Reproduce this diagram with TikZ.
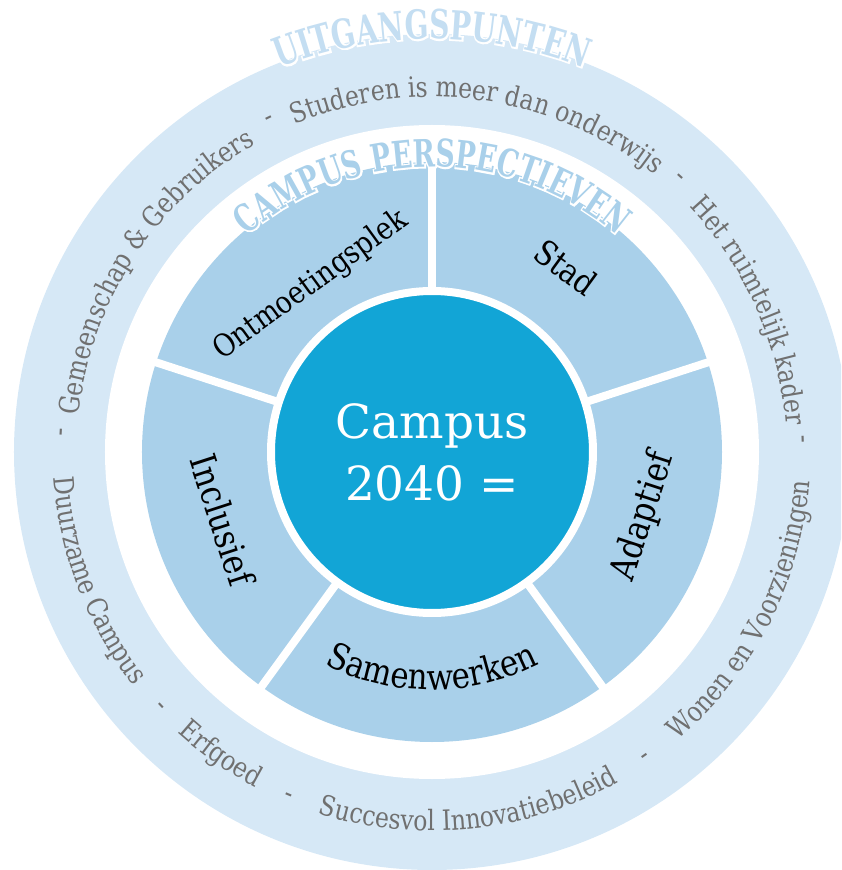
\documentclass[tikz,border=0pt]{standalone}
\usepackage{fontspec}
\setmainfont{DejaVu Serif}
\newfontfamily\labelfont[FakeStretch=0.84]{DejaVu Serif}
\newfontfamily\segfont[FakeStretch=0.86]{DejaVu Serif}
\newfontfamily\headfont[FakeStretch=0.7]{DejaVu Serif Bold}
\newfontfamily\halofont[FakeStretch=0.7,FakeBold=8]{DejaVu Serif Bold}
\usepackage{tikz}
\usetikzlibrary{decorations.text}

\definecolor{ringblue}{RGB}{214,232,246}
\definecolor{segblue}{RGB}{169,208,234}
\definecolor{coreblue}{RGB}{18,165,214}
\definecolor{greytext}{RGB}{112,112,112}
\definecolor{uitgblue}{RGB}{196,222,242}

\begin{document}
\begin{tikzpicture}[x=1pt, y=1pt,
   ring/.style={fill=ringblue},
   seg/.style={fill=segblue},
   gap/.style={draw=white, line width=8pt},
   core/.style={circle, fill=coreblue, draw=white, line width=8pt, minimum size=322pt, inner sep=0pt, text=white, align=center, font=\fontsize{47}{62}\selectfont},
   seglabel/.style={inner sep=0pt, font=\segfont\fontsize{#1}{#1}\selectfont},
   seglabel/.default=35,
   sepmark/.style={inner sep=0pt, text=greytext, font=\labelfont\fontsize{28}{28}\selectfont},
   arctext/.style={decorate, decoration={text along path, text align=center, text color=greytext, text={|\labelfont\fontsize{28}{28}\selectfont|#1}}},
   headhalo/.style 2 args={decorate, decoration={text along path, text align=center, text color=white, text={|\halofont\fontsize{#2}{#2}\selectfont|#1}}},
   headtext/.style n args={3}{decorate, decoration={text along path, text align=center, text color=#3, text={|\headfont\fontsize{#2}{#2}\selectfont|#1}}}
]
   \useasboundingbox (-432,-418) rectangle (409,452);
   \clip (-432,-418) rectangle (409,452);

   % Rings
   \fill[ring] (0,0) circle[radius=418];
   \fill[white] (0,0) circle[radius=327];
   \fill[seg] (0,0) circle[radius=290];
   \foreach \a in {90,18,-54,-126,162}
      \draw[gap] (0,0) -- (\a:296);

   % Centre
   \node[core] (campus) at (0,0) {Campus\\2040 =};

   % Perspectives
   \node[seglabel=31, rotate=36] (ontmoet) at (126:206) {Ontmoetingsplek};
   \node[seglabel=34, rotate=-36] (stad) at (54:228) {Stad};
   \node[seglabel=36, rotate=72] (adaptief) at (-17:221) {Adaptief};
   \node[seglabel=36, rotate=-72] (inclusief) at (198:220) {Inclusief};
   \path[decorate, decoration={text along path, text align=center, text={|\segfont\fontsize{36}{36}\selectfont|Samenwerken}}]
      (240:238) arc[start angle=240, end angle=300, radius=238];

   % Headings
   \path[headhalo={CAMPUS PERSPECTIEVEN}{38}] (150:285) arc[start angle=150, end angle=30, radius=285];
   \path[headtext={CAMPUS PERSPECTIEVEN}{38}{segblue}] (150:285) arc[start angle=150, end angle=30, radius=285];
   \path[headhalo={UITGANGSPUNTEN}{40}] (130:413) arc[start angle=130, end angle=50, radius=413];
   \path[headtext={UITGANGSPUNTEN}{40}{uitgblue}] (130:413) arc[start angle=130, end angle=50, radius=413];

   % Starting points, upper half
   \path[arctext={Gemeenschap {\&} Gebruikers}] (187:355) arc[start angle=187, end angle=107, radius=355];
   \path[arctext={Studeren is meer dan onderwijs}] (122:355) arc[start angle=122, end angle=42, radius=355];
   \path[arctext={Het ruimtelijk kader}] (64:355) arc[start angle=64, end angle=-16, radius=355];

   % Starting points, lower half
   \path[arctext={Duurzame Campus}] (161:379) arc[start angle=161, end angle=241, radius=379];
   \path[arctext={Erfgoed}] (205:379) arc[start angle=205, end angle=265, radius=379];
   \path[arctext={Succesvol Innovatiebeleid}] (236:379) arc[start angle=236, end angle=316, radius=379];
   \path[arctext={Wonen en Voorzieningen}] (293:379) arc[start angle=293, end angle=373, radius=379];

   \foreach \a/\n in {116/1, 47.9/2, 1.9/3, 177/4, 223.2/5, 247.4/6, 305/7}
      \node[sepmark, rotate=\a-90] (mark\n) at (\a:368) {-};
\end{tikzpicture}
\end{document}
